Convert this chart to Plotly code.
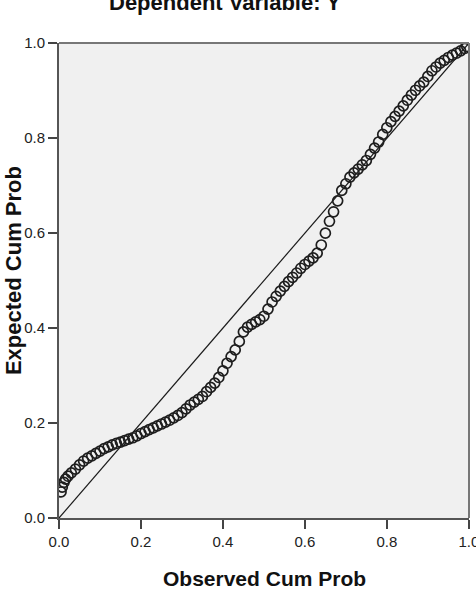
import plotly.graph_objects as go

# Observed cumulative probability (x) and expected cumulative probability (y)
observed = [0.005, 0.008, 0.012, 0.016, 0.022, 0.03, 0.04, 0.05, 0.06, 0.07, 0.08, 0.09,
            0.10, 0.11, 0.12, 0.13, 0.14, 0.15, 0.16, 0.17, 0.18, 0.19,
            0.20, 0.21, 0.22, 0.23, 0.24, 0.25, 0.26, 0.27, 0.28, 0.29,
            0.30, 0.31, 0.32, 0.33, 0.34, 0.35, 0.36, 0.37, 0.38, 0.39,
            0.40, 0.41, 0.42, 0.43, 0.44, 0.45, 0.46, 0.47, 0.48, 0.49,
            0.50, 0.51, 0.52, 0.53, 0.54, 0.55, 0.56, 0.57, 0.58, 0.59,
            0.60, 0.61, 0.62, 0.63, 0.64, 0.65, 0.66, 0.67, 0.68, 0.69,
            0.70, 0.71, 0.72, 0.73, 0.74, 0.75, 0.76, 0.77, 0.78, 0.79,
            0.80, 0.81, 0.82, 0.83, 0.84, 0.85, 0.86, 0.87, 0.88, 0.89,
            0.90, 0.91, 0.92, 0.93, 0.94, 0.95, 0.96, 0.97, 0.98, 0.99, 0.995]
expected = [0.055, 0.065, 0.075, 0.082, 0.088, 0.095, 0.103, 0.112, 0.120, 0.126, 0.131, 0.136,
            0.141, 0.146, 0.150, 0.154, 0.157, 0.160, 0.163, 0.166, 0.169, 0.173,
            0.178, 0.182, 0.186, 0.190, 0.194, 0.198, 0.202, 0.206, 0.211, 0.216,
            0.222, 0.230, 0.238, 0.244, 0.250, 0.256, 0.266, 0.275, 0.284, 0.296,
            0.310, 0.326, 0.340, 0.354, 0.372, 0.392, 0.402, 0.408, 0.413, 0.418,
            0.425, 0.440, 0.455, 0.467, 0.478, 0.488, 0.498, 0.507, 0.516, 0.526,
            0.534, 0.541, 0.548, 0.558, 0.575, 0.600, 0.625, 0.645, 0.668, 0.690,
            0.704, 0.718, 0.727, 0.735, 0.744, 0.753, 0.766, 0.779, 0.792, 0.808,
            0.822, 0.835, 0.846, 0.857, 0.868, 0.880, 0.891, 0.901, 0.910, 0.918,
            0.930, 0.942, 0.950, 0.958, 0.964, 0.970, 0.975, 0.979, 0.984, 0.989, 0.993]

ref_line = [0.0, 1.0]
tick_vals = [0.0, 0.2, 0.4, 0.6, 0.8, 1.0]
tick_text = ["0.0", "0.2", "0.4", "0.6", "0.8", "1.0"]

title_text = "Dependent Variable: Y"
x_title = "Observed Cum Prob"
y_title = "Expected Cum Prob"

FONT = "Liberation Sans, Arial, sans-serif"

fig = go.Figure()
fig.add_trace(go.Scatter(x=ref_line, y=ref_line, mode="lines",
                         line=dict(color="#1a1a1a", width=1.2),
                         showlegend=False, hoverinfo="skip"))
fig.add_trace(go.Scatter(x=observed, y=expected, mode="markers",
                         marker=dict(symbol="circle-open", size=10, color="#1e1e1e",
                                     line=dict(color="#1e1e1e", width=1.7)),
                         showlegend=False))

axis_common = dict(
    range=[0, 1.0005], tickvals=tick_vals, ticktext=tick_text,
    ticks="outside", ticklen=9, tickwidth=2, tickcolor="#444",
    showline=True, linecolor="#555", linewidth=2,
    showgrid=False, zeroline=False, ticklabeloverflow="allow", automargin=False,
    tickfont=dict(family=FONT, size=15, color="#222"),
)

fig.update_xaxes(**axis_common, mirror=False)
fig.update_yaxes(**axis_common, mirror=False)

fig.update_layout(
    width=476, height=596,
    margin=dict(l=59, r=7, t=43, b=78, autoexpand=False),
    paper_bgcolor="white", plot_bgcolor="#f0f0f0",
    shapes=[
        dict(type="line", xref="paper", yref="paper", x0=0, x1=1, y0=1, y1=1,
             line=dict(color="#777", width=2)),
        dict(type="line", xref="paper", yref="paper", x0=1, x1=1, y0=0, y1=1,
             line=dict(color="#777", width=2)),
    ],
    annotations=[
        dict(text="<b>" + title_text + "</b>", xref="paper", yref="paper",
             x=0.405, y=1.054, xanchor="center", yanchor="bottom", showarrow=False,
             font=dict(family=FONT, size=22, color="#111")),
        dict(text="<b>" + x_title + "</b>", xref="paper", yref="paper",
             x=0.5, y=-0.128, xanchor="center", yanchor="middle", showarrow=False,
             font=dict(family=FONT, size=21, color="#111")),
        dict(text="<b>" + y_title + "</b>", xref="paper", yref="paper",
             x=-0.112, y=0.52, xanchor="center", yanchor="middle", showarrow=False,
             textangle=-90, font=dict(family=FONT, size=22, color="#111")),
    ],
)

fig.write_html("out.html")
